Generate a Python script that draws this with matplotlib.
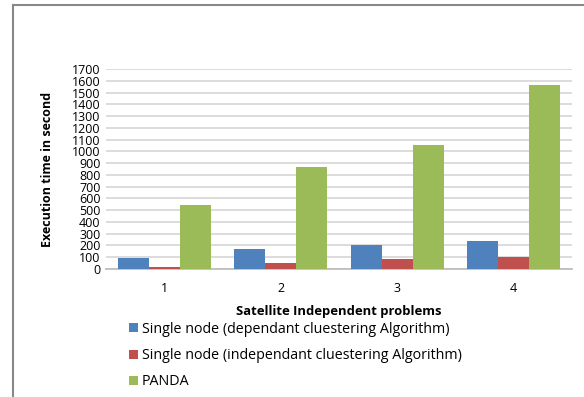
import matplotlib
matplotlib.use("Agg")
import matplotlib.pyplot as plt
import numpy as np
from matplotlib.patches import Patch
from matplotlib.lines import Line2D

categories = ["1", "2", "3", "4"]
series_names = ["Single node (dependant cluestering Algorithm)",
                "Single node (independant cluestering Algorithm)",
                "PANDA"]
dependant = [90, 170, 200, 240]
independant = [20, 55, 85, 105]
panda = [544, 867, 1054, 1565]
colors = ["#4F81BD", "#C0504D", "#9BBB59"]
yticks = list(range(0, 1800, 100))

plt.rcParams['font.family'] = ['Open Sans', 'DejaVu Sans']

fig = plt.figure(figsize=(5.84, 3.97), dpi=100)
ax = fig.add_axes([106/584, 1-269/397, 466/584, 200/397])

x = np.arange(len(categories))
w = 0.266
for i, (vals, c) in enumerate(zip([dependant, independant, panda], colors)):
    ax.bar(x + (i-1)*w, vals, width=w, color=c, zorder=3)

ax.set_xlim(-0.5, len(categories)-0.5)
ax.set_ylim(0, 1700)
ax.set_yticks(yticks)
ax.set_yticklabels([str(t) for t in yticks], fontsize=9)
ax.set_xticks(x)
ax.set_xticklabels(categories, fontsize=9)
ax.tick_params(axis='both', length=0, pad=4)
ax.tick_params(axis='x', pad=9)
ax.yaxis.grid(True, color="#d9d9d9", linewidth=1.3, zorder=0)
for s in ["top", "right", "left"]:
    ax.spines[s].set_visible(False)
ax.spines["bottom"].set_color("#bfbfbf")
ax.spines["bottom"].set_linewidth(1.3)

ax.set_xlabel("Satellite Independent problems", fontsize=9.4, fontweight="bold", labelpad=7.5)
ax.set_ylabel("Execution time in second", fontsize=9, fontweight="bold", labelpad=13)

handles = [Patch(facecolor=c, edgecolor='none') for c in colors]
fig.legend(handles, series_names, loc="upper left", bbox_to_anchor=(129/584, 1-322/397),
           frameon=False, fontsize=10.3, handlelength=0.6, handleheight=0.6,
           handletextpad=0.3, labelspacing=0.78, borderaxespad=0, borderpad=0)

# outer frame lines
fig.add_artist(Line2D([13/584, 13/584], [0, 1-5/397], color="#888888", linewidth=1.5, transform=fig.transFigure))
fig.add_artist(Line2D([13/584, 1], [1-5/397, 1-5/397], color="#888888", linewidth=1.5, transform=fig.transFigure))

fig.savefig("out.png", dpi=100)
